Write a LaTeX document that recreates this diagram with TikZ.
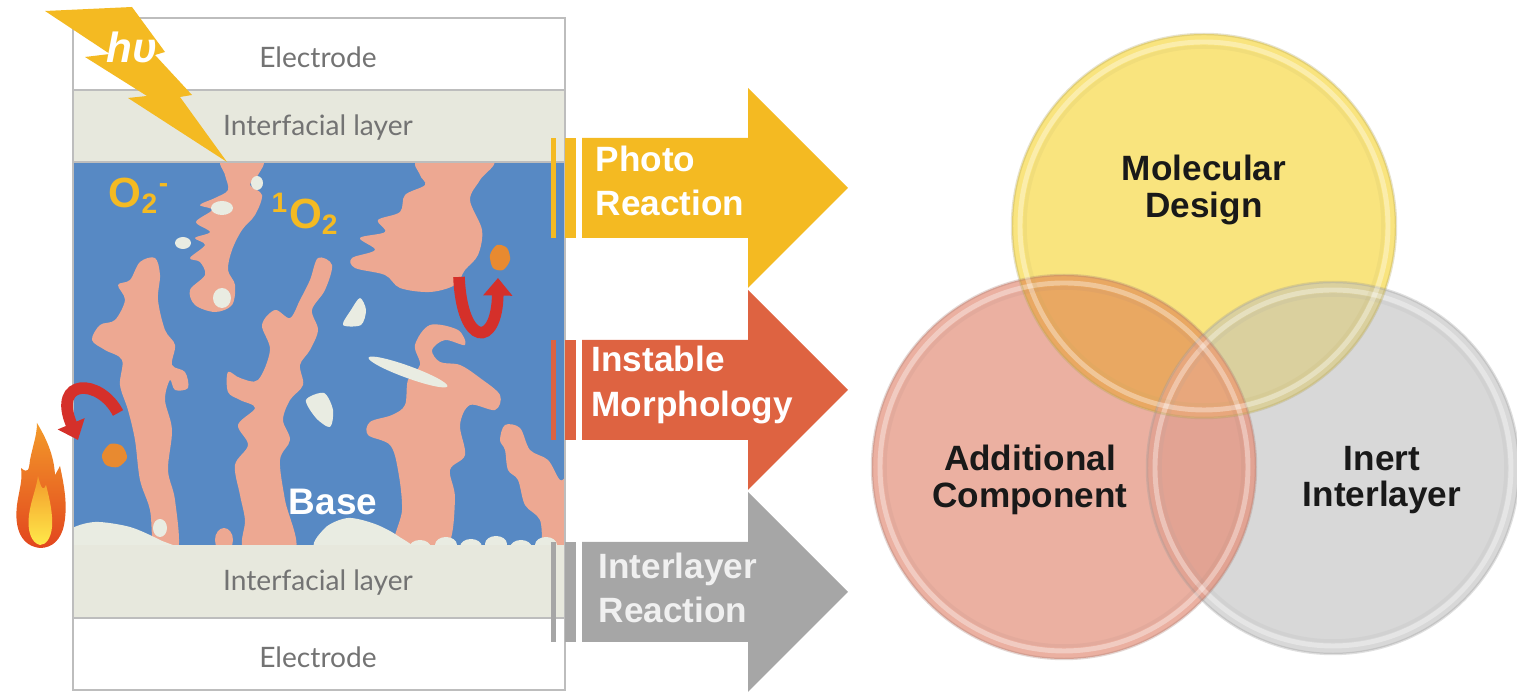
\documentclass[tikz,border=0pt]{standalone}
\usepackage{fontspec}
\setmainfont{Liberation Sans}
\newfontfamily\layerfont{Lato}
\usetikzlibrary{arrows.meta}

\definecolor{BaseBlue}{HTML}{5789C4}
\definecolor{DomainPink}{HTML}{EDA892}
\definecolor{GrainWhite}{HTML}{E9ECE2}
\definecolor{LayerGrey}{HTML}{E7E8DD}
\definecolor{EdgeGrey}{HTML}{BDBDBD}
\definecolor{PhotoYellow}{HTML}{F4BA22}
\definecolor{MorphRed}{HTML}{DE6341}
\definecolor{InterGrey}{HTML}{A6A6A6}
\definecolor{CurlRed}{HTML}{D5302A}
\definecolor{FlakeOrange}{HTML}{E88A30}
\definecolor{FlameOrange}{HTML}{F39A2A}
\definecolor{FlameRed}{HTML}{E2461E}
\definecolor{FlameCore}{HTML}{FFE94A}
\definecolor{VennYellow}{HTML}{F9E47E}
\definecolor{VennPink}{HTML}{EBB0A1}
\definecolor{VennGrey}{HTML}{D8D8D8}
\definecolor{VennOrange}{HTML}{E9A862}
\definecolor{VennKhaki}{HTML}{DAD09E}
\definecolor{VennRose}{HTML}{E2A393}
\definecolor{VennCore}{HTML}{E8A77C}

\begin{document}
\begin{tikzpicture}[x=0.01cm, y=-0.01cm,
    layertext/.style={font=\layerfont\fontsize{8}{10}\selectfont, text=black!55},
    arrowtext/.style={font=\bfseries\fontsize{10}{12.6}\selectfont, text=white, align=left, anchor=west, inner sep=0pt},
    venntext/.style={font=\bfseries\fontsize{10}{10.4}\selectfont, text=black!90, align=center, inner sep=0pt},
    speciestext/.style={font=\bfseries\fontsize{12}{12}\selectfont, text=PhotoYellow, inner sep=0pt, anchor=west},
    photontext/.style={font=\bfseries\itshape\fontsize{12}{12}\selectfont, text=white, inner sep=0pt},
    pinkdomain/.style={fill=DomainPink},
    grain/.style={fill=GrainWhite}]

    \useasboundingbox (0,0) rectangle (1517,692);

    % ========== LEFT: DEVICE STACK ==========
    \fill[white] (73,18) rectangle (565,90);
    \fill[LayerGrey] (73,90) rectangle (565,162);
    \fill[BaseBlue] (73,162) rectangle (565,545);
    \fill[LayerGrey] (73,545) rectangle (565,618);
    \fill[white] (73,618) rectangle (565,690);

    % Blend morphology inside the active layer
    \begin{scope}
        \clip (73,162) rectangle (565,545);
        \path[pinkdomain] plot[smooth cycle, tension=0.55] coordinates {(222,160) (262,160) (258,175) (250,185) (262,195) (255,215) (242,230) (232,250) (228,270) (235,285) (232,305) (215,312) (195,305) (190,290) (205,275) (200,262) (190,258) (205,245) (195,238) (210,232) (196,222) (212,210) (200,205) (215,198) (228,190) (225,175)};
        \path[pinkdomain] plot[smooth cycle, tension=0.55] coordinates {(420,160) (492,160) (480,180) (470,200) (482,230) (478,255) (465,270) (455,285) (430,292) (400,288) (385,275) (355,268) (352,258) (375,250) (360,238) (385,232) (378,220) (400,212) (405,195) (425,185) (420,175)};
        \path[pinkdomain] plot[smooth cycle, tension=0.55] coordinates {(140,262) (155,258) (160,275) (158,300) (165,330) (175,345) (172,365) (185,372) (188,388) (175,390) (170,380) (165,400) (172,430) (168,470) (175,500) (178,550) (155,550) (150,510) (140,480) (135,440) (128,410) (120,385) (122,360) (105,350) (92,340) (100,325) (115,320) (125,300) (118,285) (130,280)};
        \path[pinkdomain] plot[smooth cycle, tension=0.55] coordinates {(318,258) (332,265) (325,290) (312,310) (318,330) (310,350) (300,365) (303,385) (290,400) (283,420) (290,440) (280,460) (285,500) (295,550) (245,550) (245,520) (240,495) (235,465) (248,445) (238,425) (255,408) (240,400) (228,392) (228,372) (240,378) (258,380) (270,350) (262,325) (275,310) (290,318) (300,300) (310,280)};
        \path[pinkdomain] plot[smooth cycle, tension=0.55] coordinates {(430,325) (458,330) (465,345) (445,340) (432,350) (440,362) (460,365) (480,378) (500,395) (495,410) (470,405) (460,425) (465,455) (450,470) (455,500) (445,550) (395,550) (402,510) (398,470) (390,445) (368,435) (370,422) (392,415) (405,405) (408,380) (420,365) (415,345)};
        \path[pinkdomain] plot[smooth cycle, tension=0.55] coordinates {(505,425) (520,428) (530,450) (548,460) (560,480) (570,480) (570,550) (545,550) (540,520) (525,505) (518,480) (508,470) (505,450) (500,440)};
        \path[pinkdomain] (224,540) ellipse (9 and 12);
        \path[pinkdomain] (270,545) ellipse (7 and 8);

        % crystalline grains
        \path[grain] (222,208) ellipse (11 and 7);
        \path[grain] (183,243) ellipse (8 and 6);
        \path[grain] (222,298) ellipse (9 and 10);
        \path[grain] (257,183) ellipse (6 and 7);
        \path[grain] plot[smooth cycle, tension=0.5] coordinates {(360,298) (366,310) (361,325) (343,325) (351,310)};
        \path[grain, rotate around={-20:(408,372)}] (408,372) ellipse (42 and 6);
        \path[grain] plot[smooth cycle, tension=0.5] coordinates {(306,400) (324,393) (333,410) (330,427) (316,418)};
        \path[grain] (160,528) ellipse (7 and 9);
        \path[grain] plot[smooth cycle, tension=0.5] coordinates {(70,530) (95,522) (130,527) (160,540) (175,550) (70,550)};
        \path[grain] plot[smooth cycle, tension=0.5] coordinates {(318,550) (325,528) (348,518) (375,524) (398,536) (410,550)};
        \foreach \bx/\by in {420/548,446/545,471/547,496/544,521/548,546/545}
            \path[grain] (\bx,\by) ellipse (11 and 8);
    \end{scope}

    % Layer borders
    \draw[EdgeGrey, line width=0.8pt] (73,18) rectangle (565,690);
    \draw[EdgeGrey, line width=0.8pt] (73,90) -- (565,90);
    \draw[EdgeGrey, line width=0.5pt] (73,162) -- (565,162);
    \draw[EdgeGrey, line width=0.8pt] (73,618) -- (565,618);

    \node[layertext] (topelectrode) at (318,57) {Electrode};
    \node[layertext] (topinterface) at (318,128) {Interfacial layer};
    \node[layertext] (botinterface) at (318,583) {Interfacial layer};
    \node[layertext] (botelectrode) at (318,657) {Electrode};

    % Light
    \fill[PhotoYellow] (45,11) -- (132,7) -- (165,52) -- (155,55) -- (192,95) -- (180,97) -- (227,162) -- (128,98) -- (147,96) -- (85,57) -- (110,54) -- cycle;
    \node[photontext] (photon) at (132,47) {hυ};

    % Reactive oxygen species
    \node[speciestext] (superoxide) at (108,196) {O\textsubscript{2}\textsuperscript{-}};
    \node[speciestext] (singlet) at (271,214) {\textsuperscript{1}O\textsubscript{2}};
    \node[font=\bfseries\fontsize{10.5}{12}\selectfont, text=white] (base) at (333,502) {Base};

    % Diffusing fragments
    \fill[FlakeOrange] plot[smooth cycle] coordinates {(490,255) (497,245) (507,248) (510,260) (503,270) (493,268)};
    \fill[FlakeOrange] plot[smooth cycle] coordinates {(102,455) (110,444) (122,446) (127,458) (118,467) (106,465)};
    \draw[CurlRed, line width=3.3pt, -{Triangle[width=8pt,length=5pt]}] (118,413) .. controls (100,378) and (52,378) .. (78,440);
    \draw[CurlRed, line width=3.3pt, -{Triangle[width=8pt,length=5pt]}] (459,277) .. controls (462,348) and (497,348) .. (498,278);

    % Heat
    \shade[top color=FlameOrange, bottom color=FlameRed] (40,548) .. controls (22,546) and (14,530) .. (17,505)
        .. controls (19,490) and (23,480) .. (21,468) .. controls (28,474) and (29,470) .. (30,460)
        .. controls (33,445) and (37,435) .. (37,423) .. controls (46,438) and (54,455) .. (55,475)
        .. controls (58,470) and (60,466) .. (60,466) .. controls (64,485) and (68,505) .. (64,525)
        .. controls (61,540) and (52,548) .. (40,548) -- cycle;
    \shade[top color=FlameOrange, bottom color=FlameCore] (40,545) .. controls (31,543) and (27,530) .. (29,515)
        .. controls (31,500) and (36,490) .. (38,476) .. controls (41,488) and (43,492) .. (46,485)
        .. controls (50,500) and (53,515) .. (52,527) .. controls (51,538) and (46,545) .. (40,545) -- cycle;

    % ========== MIDDLE: DEGRADATION ARROWS ==========
    \foreach \cy/\col in {188/PhotoYellow, 390/MorphRed, 592/InterGrey} {
        \fill[\col] (551,{\cy-50}) rectangle (556,{\cy+50});
        \fill[\col] (565,{\cy-50}) rectangle (576,{\cy+50});
        \fill[\col] (582,{\cy-50}) -- (748,{\cy-50}) -- (748,{\cy-100}) -- (848,\cy)
            -- (748,{\cy+100}) -- (748,{\cy+50}) -- (582,{\cy+50}) -- cycle;
    }
    \node[arrowtext] (photo) at (595,181) {Photo\\Reaction};
    \node[arrowtext] (morph) at (591,385) {Instable\\Morphology};
    \node[arrowtext, text=white!94!black] (interlayer) at (598,588) {Interlayer\\Reaction};

    % ========== RIGHT: STRATEGIES ==========
    \coordinate (ycen) at (1204,226);
    \coordinate (pcen) at (1064,467);
    \coordinate (gcen) at (1333,468);

    \fill[VennGrey] (gcen) circle (186);
    \fill[VennPink] (pcen) circle (192);
    \fill[VennYellow] (ycen) circle (192);
    \begin{scope}
        \clip (pcen) circle (192);
        \fill[VennRose] (gcen) circle (186);
    \end{scope}
    \begin{scope}
        \clip (ycen) circle (192);
        \fill[VennOrange] (pcen) circle (192);
        \fill[VennKhaki] (gcen) circle (186);
        \clip (pcen) circle (192);
        \fill[VennCore] (gcen) circle (186);
    \end{scope}

    % glossy rims
    \foreach \cen/\rad/\col in {gcen/186/VennGrey, pcen/192/VennPink, ycen/192/VennYellow} {
        \draw[\col!70!black, opacity=0.3, line width=0.7pt] (\cen) circle (\rad);
        \draw[white, opacity=0.35, line width=1.4pt] (\cen) circle ({\rad-8});
        \draw[\col!75!black, opacity=0.12, line width=1pt] (\cen) circle ({\rad-13});
    }

    \node[venntext] (design) at (1204,190) {Molecular\\Design};
    \node[venntext] (component) at (1030,480) {Additional\\Component};
    \node[venntext] (inert) at (1382,480) {Inert\\Interlayer};

\end{tikzpicture}
\end{document}
